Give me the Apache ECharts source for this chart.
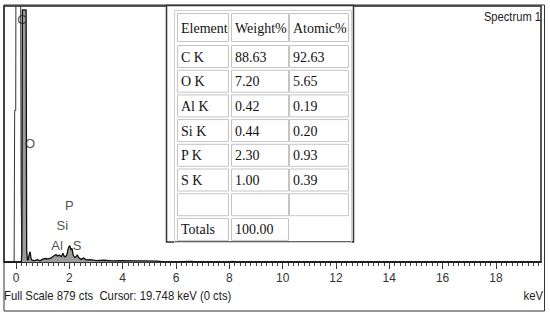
<!DOCTYPE html>
<html>
<head>
<meta charset="utf-8">
<script src="https://cdn.jsdelivr.net/npm/echarts@6/dist/echarts.min.js"></script>
<style>
  html,body{margin:0;padding:0;background:#fff;}
  #main{width:550px;height:313px;}
</style>
</head>
<body>
<div id="main"></div>
<script>
// spectrum (keV, counts)
const energyKeV = [-0.45,0.2,0.22,0.24,0.38,0.4,0.43,0.46,0.5,0.53,0.56,0.6,0.7,0.8,0.9,1.0,1.1,1.2,1.3,1.4,1.5,1.55,1.62,1.7,1.76,1.82,1.9,1.97,2.02,2.06,2.1,2.15,2.22,2.3,2.36,2.45,2.55,2.62,2.8,3.0,3.3,3.6,4.0,4.4,4.8,5.3,5.5,6.0,6.5,6.6,6.7,8.0,8.1,8.3,19.7];
const counts =    [0,0,30,866,866,40,6,8,28,35,14,6,5,8,4,10,12,11,13,20,26,20,24,18,30,17,22,50,56,42,47,22,15,24,14,9,14,7,8,5,6,4,5,4,4,3,1,0,2,2,0,0,2,0,0];
// zero-energy strobe peak, drawn as outline only
const zeroKeV = [-0.45,-0.07,-0.05,-0.01,0.0,0.17,0.19,0.22,0.26];
const zeroCts = [0,0,520,520,1200,1200,240,30,0];

const xTickLabels = [0,2,4,6,8,10,12,14,16,18];

const peakLabels = ['C','O','Al','Si','P','S'];
const peakLabelKeV = [0.22,0.53,1.54,1.74,2.0,2.29];
const peakLabelCts = [834,408,58,127,195,58];

const headers = ['Element','Weight%','Atomic%'];
const elements = ['C K','O K','Al K','Si K','P K','S K'];
const weightPct = ['88.63','7.20','0.42','0.44','2.30','1.00'];
const atomicPct = ['92.63','5.65','0.19','0.20','0.93','0.39'];
const totalWeight = '100.00';

let minorTicks = [];
for (let i = 0; i <= 98; i++) minorTicks.push(+(i * 0.2).toFixed(1));

let sans = 'Liberation Sans, Arial, sans-serif';
let serif = 'Liberation Serif, Times New Roman, serif';

// table graphic
let colX = [177,231,289], colW = [51,57,59];
let rows = [headers];
elements.forEach(function(e,i){ rows.push([e, weightPct[i], atomicPct[i]]); });
rows.push(['','','']);
rows.push(['Totals', totalWeight, null]);
let rowY = [13], rowH = [28];
for (let i = 1; i < rows.length; i++) { rowY.push(45 + (i-1)*24.7); rowH.push(22); }

let tableEls = [
  {type:'rect', shape:{x:166.5,y:5.5,width:187,height:236.5}, style:{fill:'#fff',stroke:'#333',lineWidth:1.5}, z:10},
  {type:'rect', shape:{x:174.5,y:10.5,width:177,height:232}, style:{fill:'none',stroke:'#cfcfcf',lineWidth:1}, z:11}
];
rows.forEach(function(r,ri){
  r.forEach(function(txt,ci){
    if (txt === null) return;
    tableEls.push({type:'rect', shape:{x:colX[ci]+0.5,y:rowY[ri]+0.5,width:colW[ci],height:rowH[ri]},
      style:{fill:'none',stroke:'#c4c4c4',lineWidth:1}, z:11});
    if (txt) tableEls.push({type:'text', x:colX[ci]+4, y:rowY[ri]+rowH[ri]/2+1,
      style:{text:txt, font:'14px ' + serif, fill:'#111', verticalAlign:'middle'}, z:12});
  });
});

let chart = echarts.init(document.getElementById('main'), null, {renderer:'svg'});
let option = {
  animation:false,
  backgroundColor:'#fff',
  grid:{left:4, top:6, width:537, height:256, show:true, borderColor:'#222', borderWidth:1.5, backgroundColor:'#fff'},
  xAxis:[{
    type:'value', min:-0.45, max:19.69,
    splitLine:{show:false},
    axisLine:{show:true, onZero:false, lineStyle:{color:'#333', width:1}},
    axisTick:{show:true, length:7, customValues:xTickLabels, lineStyle:{color:'#333'}},
    axisLabel:{customValues:xTickLabels, margin:10, color:'#333', fontSize:12, fontFamily:sans}
  },{
    type:'value', min:-0.45, max:19.69, position:'bottom',
    splitLine:{show:false},
    axisLine:{show:false},
    axisTick:{show:true, length:4, customValues:minorTicks, lineStyle:{color:'#444'}},
    axisLabel:{show:false}
  }],
  yAxis:{type:'value', min:0, max:879, show:false},
  series:[{
    type:'line', xAxisIndex:0, data:zeroKeV.map(function(v,i){return [v,zeroCts[i]];}),
    symbol:'none', clip:true, lineStyle:{color:'#333', width:1}, z:3
  },{
    type:'line', xAxisIndex:0, data:energyKeV.map(function(v,i){return [v,counts[i]];}),
    symbol:'none', clip:true, lineStyle:{color:'#111', width:1.3},
    areaStyle:{color:'#9c9c9c', opacity:1}, z:4
  },{
    type:'scatter', xAxisIndex:0, symbolSize:1, itemStyle:{color:'rgba(0,0,0,0)'},
    data:peakLabels.map(function(n,i){return [peakLabelKeV[i], peakLabelCts[i], n];}),
    label:{show:true, position:'inside', formatter:function(p){return p.value[2];}, color:'#222', fontSize:13, fontFamily:sans},
    z:5
  }],
  graphic:[
    {type:'rect', shape:{x:4,y:5,width:540.5,height:306}, style:{fill:'none',stroke:'#333',lineWidth:1}, z:0},
    {type:'text', x:541, y:10, scaleX:0.86, style:{text:'Spectrum 1', align:'right', font:'13px ' + sans, fill:'#222'}, z:6},
    {type:'text', x:4, y:289, scaleX:0.87, style:{text:'Full Scale 879 cts  Cursor: 19.748 keV (0 cts)', font:'13px ' + sans, fill:'#222'}, z:6},
    {type:'text', x:543, y:289, scaleX:0.87, style:{text:'keV', align:'right', font:'13px ' + sans, fill:'#222'}, z:6}
  ].concat(tableEls)
};
chart.setOption(option);
</script>
</body>
</html>
